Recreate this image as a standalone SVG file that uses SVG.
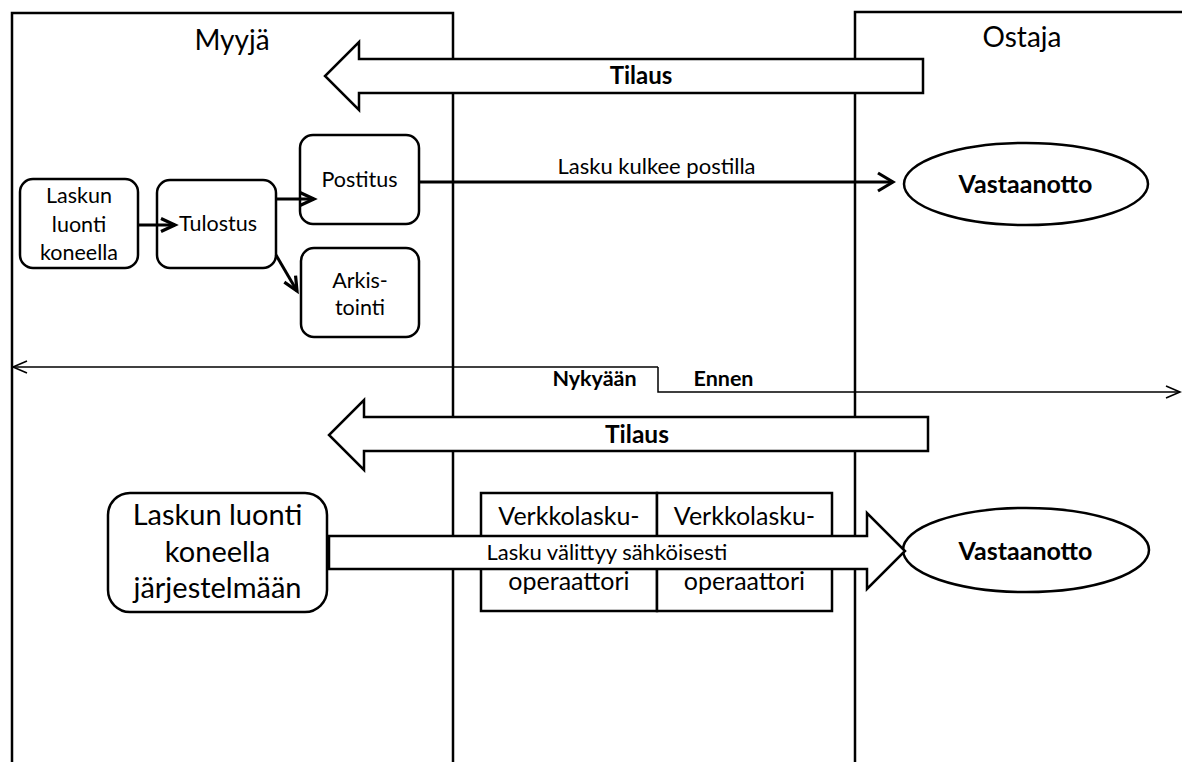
<svg xmlns="http://www.w3.org/2000/svg" width="1182" height="762" viewBox="0 0 1182 762">
<style>
  text { font-family: Lato, "Liberation Sans", sans-serif; fill: #000; text-anchor: middle; }
  .lane { fill: none; stroke: #000; stroke-width: 2.5; }
  .box { fill: #fff; stroke: #000; stroke-width: 2.5; }
  .big { fill: #fff; stroke: #000; stroke-width: 2.5; stroke-linejoin: miter; }
  .conn { fill: none; stroke: #000; stroke-width: 3; }
  .thin { fill: none; stroke: #000; stroke-width: 1.5; }
  .b { font-weight: bold; }
</style>
<defs>
  <marker id="chev" markerUnits="userSpaceOnUse" markerWidth="20" markerHeight="24" viewBox="0 0 20 24" refX="17" refY="12" orient="auto">
    <path d="M2,3 L17,12 L2,21" fill="none" stroke="#000" stroke-width="3.2"/>
  </marker>
  <marker id="chevS" markerUnits="userSpaceOnUse" markerWidth="20" markerHeight="20" viewBox="0 0 20 20" refX="15" refY="10" orient="auto">
    <path d="M1,3.5 L15,10 L1,16.5" fill="none" stroke="#000" stroke-width="3.2"/>
  </marker>
  <marker id="chevT" markerUnits="userSpaceOnUse" markerWidth="20" markerHeight="20" viewBox="0 0 20 20" refX="16" refY="10" orient="auto">
    <path d="M2,4 L16,10 L2,16" fill="none" stroke="#000" stroke-width="1.6"/>
  </marker>
</defs>

<g id="lane-myyja">
  <path class="lane" d="M12,762 V13 H453 V762"/>
  <text x="232" y="50" font-size="28">Myyjä</text>
</g>
<g id="lane-ostaja">
  <path class="lane" d="M855,762 V12 H1184"/>
  <text x="1022" y="47" font-size="28">Ostaja</text>
</g>

<g id="tilaus-top">
  <path class="big" d="M923,59 H359 V42 L325,76 L359,110 V93 H923 Z"/>
  <text class="b" x="641" y="84" font-size="24">Tilaus</text>
</g>

<g id="node-laskun-luonti">
  <rect class="box" x="20" y="179" width="118" height="89" rx="13"/>
  <text x="79" y="203" font-size="21.5">Laskun</text>
  <text x="79" y="232" font-size="21.5">luonti</text>
  <text x="79" y="260" font-size="21.5">koneella</text>
</g>
<g id="node-tulostus">
  <rect class="box" x="157" y="180" width="119" height="88" rx="13"/>
  <text x="218" y="231" font-size="21.5">Tulostus</text>
</g>
<g id="node-postitus">
  <rect class="box" x="300" y="135" width="119" height="89" rx="13"/>
  <text x="359.5" y="187" font-size="21.5">Postitus</text>
</g>
<g id="node-arkistointi">
  <rect class="box" x="301" y="248" width="118" height="89" rx="13"/>
  <text x="360" y="288" font-size="21.5">Arkis-</text>
  <text x="360" y="315" font-size="21.5">tointi</text>
</g>
<g id="node-vastaanotto-top">
  <ellipse class="box" cx="1026" cy="184" rx="122" ry="41"/>
  <text class="b" x="1025.5" y="193" font-size="25">Vastaanotto</text>
</g>

<g id="tilaus-bottom">
  <path class="big" d="M928,417 H364 V400 L329,435 L364,470 V451 H928 Z"/>
  <text class="b" x="637" y="443" font-size="24.5">Tilaus</text>
</g>

<g id="node-laskun-luonti-jarjestelmaan">
  <rect class="box" x="108" y="493" width="219" height="119" rx="22"/>
  <text x="217.5" y="525" font-size="29">Laskun luonti</text>
  <text x="217.5" y="562" font-size="29">koneella</text>
  <text x="217.5" y="598" font-size="29">järjestelmään</text>
</g>
<g id="node-operaattori-1">
  <rect class="box" x="481" y="493" width="176" height="118"/>
  <text x="569" y="525" font-size="25">Verkkolasku-</text>
  <text x="569" y="590" font-size="25">operaattori</text>
</g>
<g id="node-operaattori-2">
  <rect class="box" x="657" y="493" width="175" height="118"/>
  <text x="744.5" y="525" font-size="25">Verkkolasku-</text>
  <text x="744.5" y="590" font-size="25">operaattori</text>
</g>
<g id="node-vastaanotto-bottom">
  <ellipse class="box" cx="1026" cy="550" rx="123" ry="42"/>
  <text class="b" x="1025.5" y="560" font-size="25">Vastaanotto</text>
</g>

<g id="connectors">
  <line class="conn" x1="138" y1="225" x2="175" y2="225" marker-end="url(#chevS)"/>
  <line class="conn" x1="276" y1="199" x2="314" y2="199" marker-end="url(#chevS)"/>
  <line class="conn" x1="276" y1="255" x2="297" y2="291" marker-end="url(#chevS)"/>
  <line class="conn" x1="419" y1="182" x2="893" y2="182" marker-end="url(#chev)"/>
  <text x="656.5" y="174" font-size="22">Lasku kulkee postilla</text>
  <path class="thin" d="M658,367 H13" marker-end="url(#chevT)"/>
  <path class="thin" d="M658,367 V392 H1180" marker-end="url(#chevT)"/>
  <text class="b" x="594.5" y="386" font-size="21.5">Nykyään</text>
  <text class="b" x="723.5" y="386" font-size="21.5">Ennen</text>
  <path class="big" d="M329,536 H867 V513 L905,551 L867,589 V569 H329 Z"/>
  <text x="607" y="560" font-size="22">Lasku välittyy sähköisesti</text>
</g>
</svg>
